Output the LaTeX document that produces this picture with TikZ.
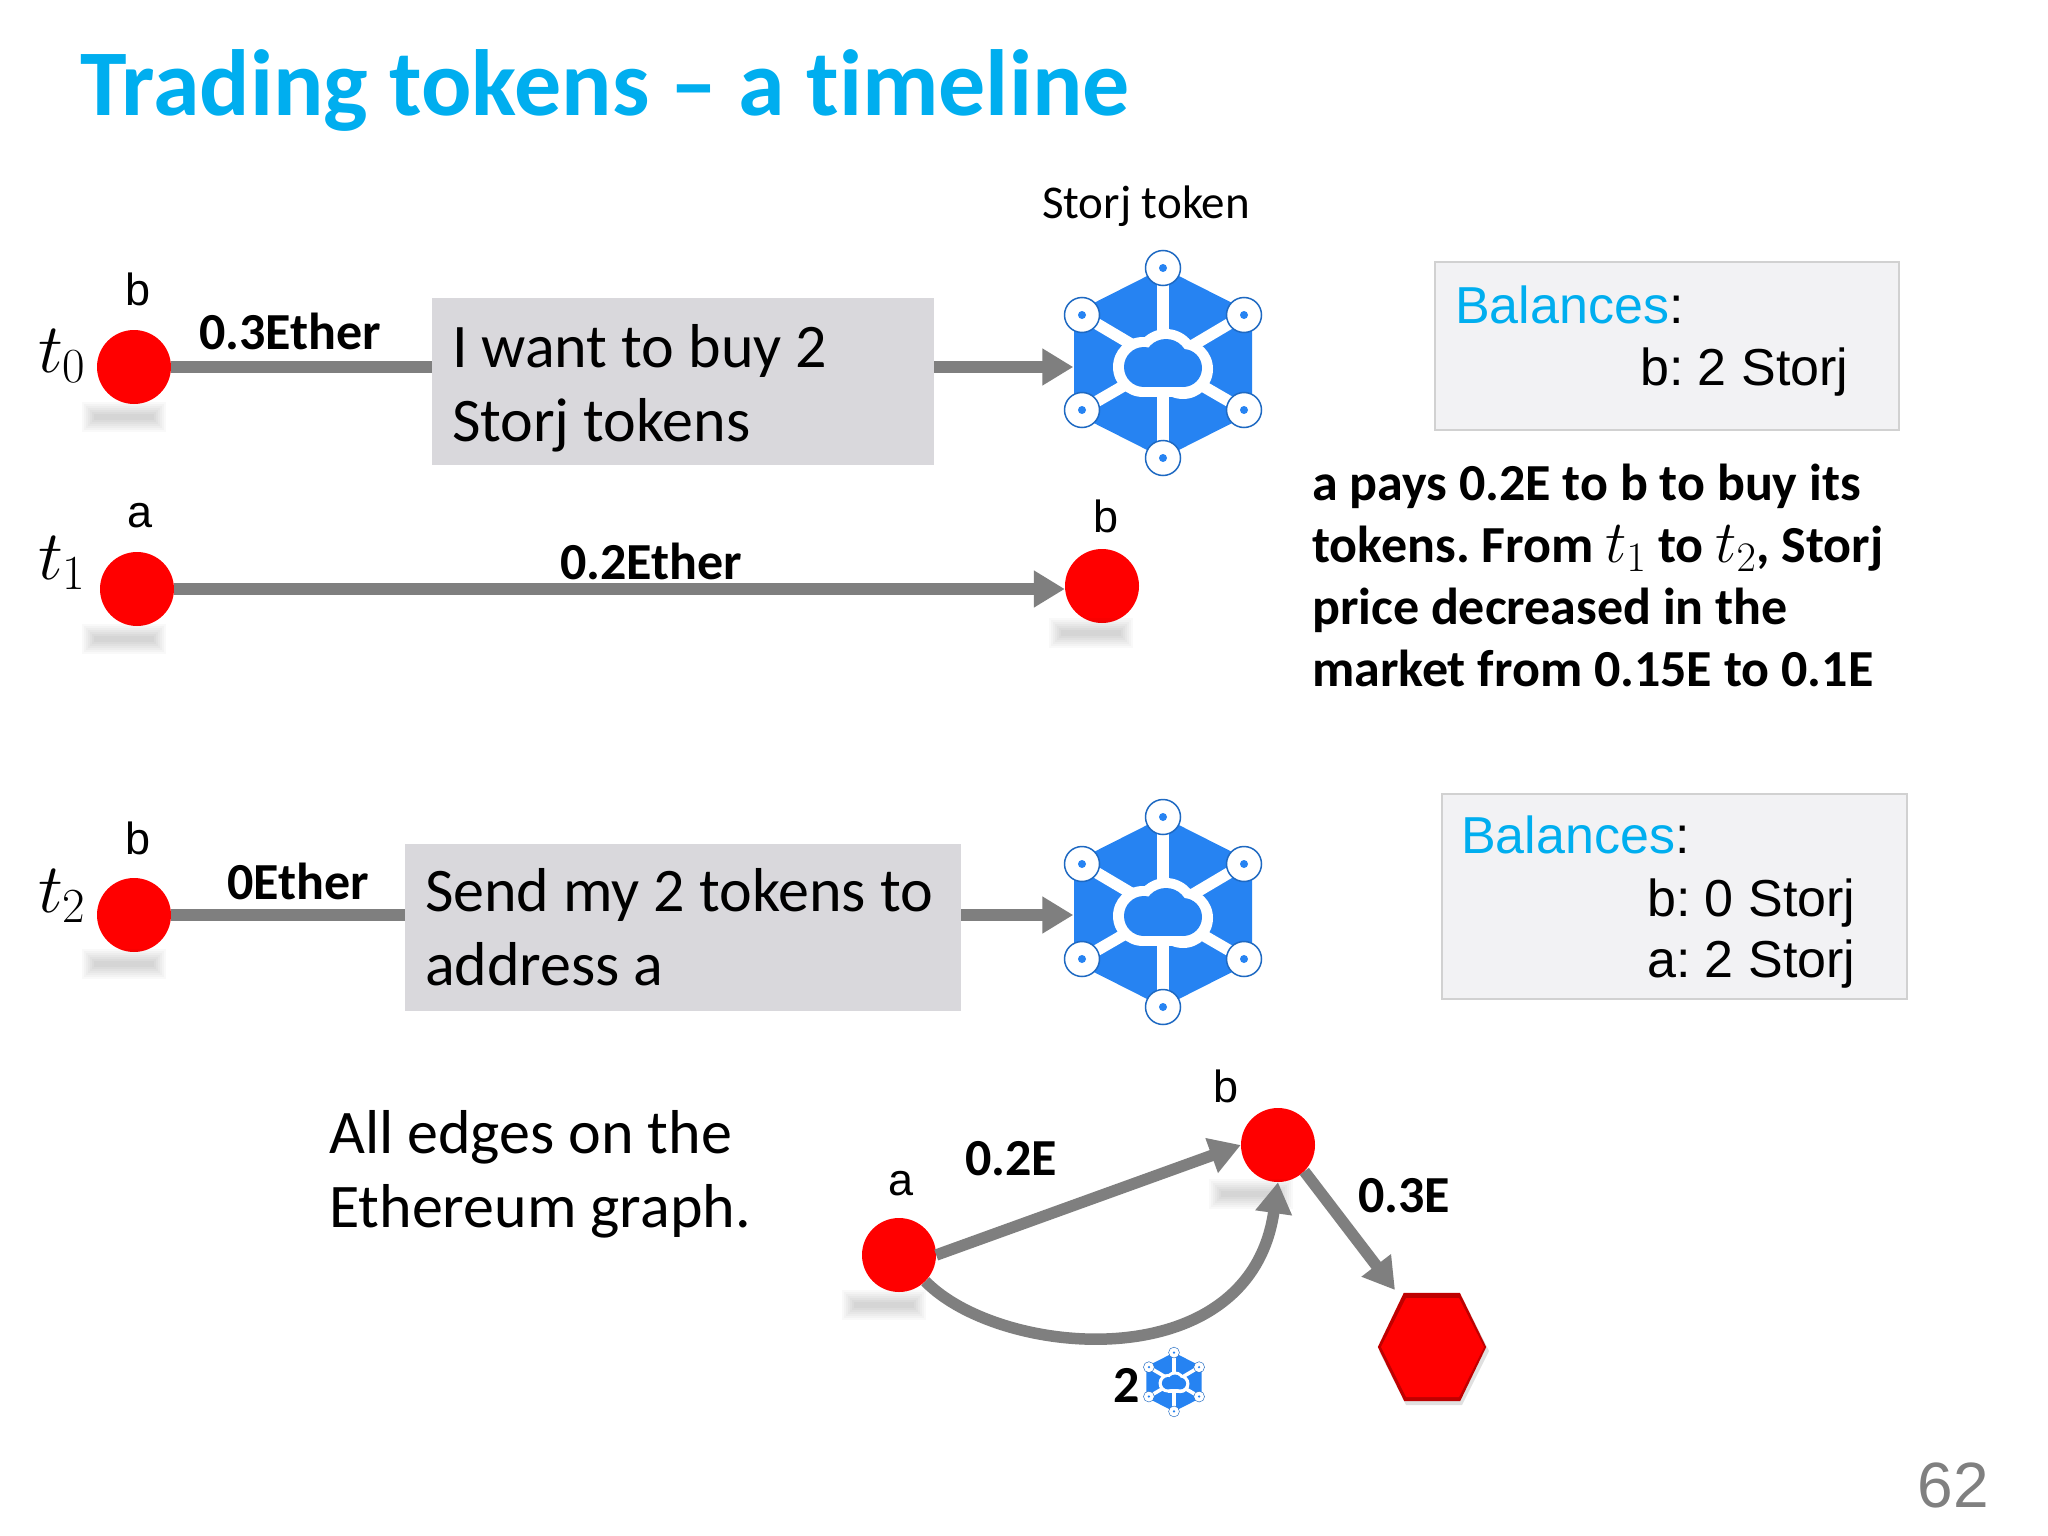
\documentclass[tikz,border=0pt]{standalone}
\usepackage{fix-cm}
\usepackage{fontspec}
\setmainfont[Ligatures=NoCommon]{Carlito}
\newfontfamily\arialfont{Liberation Sans}
\usetikzlibrary{arrows.meta}
\usetikzlibrary{calc}
\definecolor{skyblue}{HTML}{00AEEF}
\definecolor{storjblue}{HTML}{2683F2}
\definecolor{wiregray}{HTML}{7F7F7F}
\definecolor{boxgray}{HTML}{D9D8DC}
\definecolor{balancegray}{HTML}{F2F2F4}
\frenchspacing

\tikzset{
    tnode/.style={circle, fill=red, minimum size=74pt, inner sep=0pt},
    wire/.style={draw=wiregray, line width=11.5pt},
    wirehead/.style={wire, -{Triangle[length=31pt,width=35pt]}},
    msgbox/.style={fill=boxgray, inner xsep=20pt, inner ysep=0pt, minimum height=167pt, align=flush left,
        font=\fontsize{62}{74}\selectfont},
    balancebox/.style={fill=balancegray, draw=black!18, line width=1.5pt, inner sep=0pt},
    balancetext/.style={anchor=base west, inner sep=0pt, font=\arialfont\fontsize{52}{62}\selectfont},
    amount/.style={font=\bfseries\fontsize{52}{52}\selectfont},
    person/.style={font=\arialfont\fontsize{45}{45}\selectfont},
    timelabel/.style={font=\fontsize{70}{70}\selectfont},
}

% small smeared shadow under a node
\newcommand{\shadowbar}[1]{
    \foreach \d in {0,2,...,12}
        \fill[black, opacity=0.025] ($#1+(-30-\d,-3-\d)$) rectangle ($#1+(30+\d,3+\d)$);
}

% token logo, #1 centre, #2 scale
\newcommand{\storjicon}[2]{
\begin{scope}[shift={#1}, scale=#2]
    \fill[storjblue] (0,-95) -- (89,-50) -- (89,50) -- (0,95) -- (-89,50) -- (-89,-50) -- cycle;
    \foreach \x/\y in {0/-95, 81/-48, 81/47, 0/95, -81/47, -81/-48} {
        \draw[white, line width=#2*11.5pt] (0,0) -- (\x,\y);
    }
    % cloud
    \fill[white] (-20,4) circle (30);
    \fill[white] (3,-2) circle (32);
    \fill[white] (20,6) circle (30);
    \fill[white] (-20,10) rectangle (20,34);
    \fill[storjblue] (-19,4) circle (20);
    \fill[storjblue] (3,-2) circle (22);
    \fill[storjblue] (20,5) circle (19);
    \fill[storjblue] (-19,10) rectangle (20,24);
    \foreach \x/\y in {0/-95, 81/-48, 81/47, 0/95, -81/47, -81/-48} {
        \fill[white, draw=storjblue!80!black, line width=#2*1.5pt] (\x,\y) circle (17.5);
        \fill[storjblue] (\x,\y) circle (4);
    }
\end{scope}
}

\begin{document}
\begin{tikzpicture}[x=1pt,y=-1pt]
    \useasboundingbox (0,0) rectangle (2048,1536);
    \fill[white] (0,0) rectangle (2048,1536);

    % title
    \node[anchor=base west, inner sep=0pt, text=skyblue, font=\bfseries\fontsize{94}{94}\selectfont] (title) at (80,116) {Trading tokens -- a timeline};

    % nodes
    \node[tnode] (b0) at (134,367) {};
    \node[tnode] (a1) at (137,589) {};
    \node[tnode] (b1) at (1102,586) {};
    \node[tnode] (b2) at (134,915) {};
    \node[tnode] (a3) at (899,1255) {};
    \node[tnode] (b3) at (1278,1145) {};
    \node[minimum width=179pt, minimum height=210pt, inner sep=0pt] (storj0) at (1163,363) {};
    \node[minimum width=179pt, minimum height=210pt, inner sep=0pt] (storj2) at (1163,912) {};
    \node[minimum width=108pt, minimum height=108pt, inner sep=0pt] (hex3) at (1432,1347) {};
    \coordinate (hextip) at (1395,1290);

    \node[msgbox, text width=462pt] (box0) at (683,381.5) {\rule{0pt}{57pt}I want to buy 2\\Storj tokens};
    \node[msgbox, text width=516pt] (box2) at (683,927.5) {Send my 2 tokens to\\address a};

    \shadowbar{(124,417)}
    \shadowbar{(124,639)}
    \shadowbar{(1091,633)}
    \shadowbar{(124,964)}
    \shadowbar{(884,1305)}
    \shadowbar{(1251,1194)}

    % connectors
    \draw[wire] (b0) -- (b0 -| box0.west);
    \draw[wirehead] (b0 -| box0.east) -- (b0 -| storj0.west);
    \draw[wirehead] (a1) -- (a1 -| b1.west);
    \draw[wire] (b2) -- (b2 -| box2.west);
    \draw[wirehead] (b2 -| box2.east) -- (b2 -| storj2.west);
    \draw[wirehead] (a3.east) -- (b3.west);
    \draw[wirehead] (a3.south east) .. controls (1000,1358) and (1250,1380) .. (b3.south);
    \draw[wirehead] (b3.south east) -- (hextip);

    \storjicon{(1163,363)}{1}
    \storjicon{(1163,912)}{1}
    \storjicon{(1174,1382)}{0.31}

    % hexagon
    \fill[black, opacity=0.12] (1406,1297) -- (1462,1297) -- (1489,1351) -- (1462,1405) -- (1406,1405) -- (1379,1351) -- cycle;
    \fill[red!75!black] (hex3.north west) ++(26,0) -- ++(56,0) -- (hex3.east) -- ++(-26,54) -- ++(-56,0) -- (hex3.west) -- cycle;
    \fill[red] (1406,1298) -- (1459,1298) -- (1484,1347) -- (1459,1397) -- (1406,1397) -- (1381,1347) -- cycle;

    % labels
    \node[person] (lb0) at (138,289) {b};
    \node[person] (la1) at (140,516) {a};
    \node[person] (lb1) at (1106,516) {b};
    \node[person] (lb2) at (138,838) {b};
    \node[person] (la3) at (901,1184) {a};
    \node[person] (lb3) at (1226,1086) {b};
    \node[timelabel] (t0) at (62,356) {$t_0$};
    \node[timelabel] (t1) at (62,563) {$t_1$};
    \node[timelabel] (t2) at (62,896) {$t_2$};
    \node[amount] (p0) at (290,331) {0.3Ether};
    \node[amount] (p1) at (651,561) {0.2Ether};
    \node[amount] (p2) at (298,881) {0Ether};
    \node[amount] (p3) at (1011,1159) {0.2E};
    \node[amount] (p4) at (1404,1196) {0.3E};
    \node[amount] (p5) at (1127,1385) {2};
    \node[font=\fontsize{47}{47}\selectfont] (tokenname) at (1146,206) {Storj token};

    % balances
    \node[balancebox, minimum width=464pt, minimum height=168pt] (bal0) at (1667,346) {};
    \node[balancetext] (bal0a) at (1455,323) {{\color{skyblue}Balances}:};
    \node[balancetext] (bal0b) at (1640,385) {b: 2 Storj};
    \node[balancebox, minimum width=465pt, minimum height=205pt] (bal2) at (1674.5,896.5) {};
    \node[balancetext] (bal2a) at (1461,853) {{\color{skyblue}Balances}:};
    \node[balancetext] (bal2b) at (1647,916) {b: 0 Storj};
    \node[balancetext] (bal2c) at (1647,977) {a: 2 Storj};

    \node[anchor=north west, inner sep=0pt, align=left, font=\bfseries\fontsize{52}{62}\selectfont] (story) at (1312,464) {a pays 0.2E to b to buy its\\tokens. From {\fontsize{60}{62}\selectfont$t_1$} to {\fontsize{60}{62}\selectfont$t_2$}, Storj\\price decreased in the\\market from 0.15E to 0.1E};
    \node[anchor=north west, inner sep=0pt, align=left, font=\fontsize{62}{74}\selectfont] (note) at (329,1110) {All edges on the\\Ethereum graph.};
    \node[text=black!50, font=\arialfont\fontsize{64}{64}\selectfont] (pagenum) at (1953,1485) {62};
\end{tikzpicture}
\end{document}
